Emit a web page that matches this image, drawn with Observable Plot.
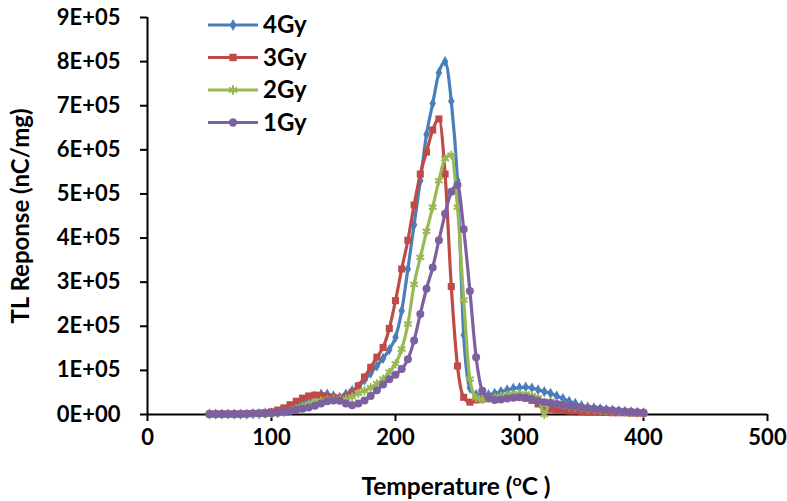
<!DOCTYPE html>
<html>
<head>
<meta charset="utf-8">
<script src="https://cdn.jsdelivr.net/npm/d3@7"></script>
<script src="https://cdn.jsdelivr.net/npm/@observablehq/plot@0.6"></script>
<style>
  html, body { margin: 0; padding: 0; background: #fff; }
  #chart { position: relative; width: 787px; height: 501px; }
</style>
</head>
<body>
<div id="chart"></div>
<script>
// Temperature (°C)
const temperature = [50,55,60,65,70,75,80,85,90,95,100,105,110,115,120,125,130,135,140,145,150,155,160,165,170,175,180,185,190,195,200,205,210,215,220,225,230,235,240,245,250,255,260,265,270,275,280,285,290,295,300,305,310,315,320,325,330,335,340,345,350,355,360,365,370,375,380,385,390,395,400];

// TL response, in units of 1E+05 nC/mg
const gy4 = [0.01,0.01,0.01,0.01,0.01,0.01,0.01,0.02,0.02,0.03,0.04,0.06,0.09,0.14,0.20,0.27,0.34,0.41,0.46,0.46,0.42,0.39,0.46,0.54,0.63,0.78,0.94,1.10,1.27,1.47,1.75,2.35,3.30,4.30,5.30,6.35,7.05,7.75,8.00,7.10,5.30,1.80,0.60,0.45,0.43,0.45,0.48,0.52,0.56,0.59,0.61,0.62,0.60,0.56,0.52,0.48,0.42,0.36,0.30,0.25,0.20,0.17,0.15,0.13,0.11,0.10,0.08,0.07,0.06,0.05,0.04];
const gy3 = [0.01,0.01,0.01,0.01,0.01,0.01,0.02,0.02,0.03,0.04,0.06,0.10,0.15,0.22,0.30,0.37,0.42,0.44,0.43,0.40,0.38,0.37,0.41,0.50,0.65,0.85,1.07,1.30,1.52,1.95,2.58,3.30,3.95,4.75,5.45,5.95,6.45,6.70,5.45,2.90,1.10,0.39,0.28,0.33,0.35,0.36,0.37,0.38,0.39,0.40,0.40,0.37,0.32,0.24,0.10,0.12,0.10,0.09,0.08,0.08,0.07,0.06,0.06,0.05,0.05,0.04,0.04,0.04,0.03,0.03,0.03];
const gy2 = [0.01,0.01,0.01,0.01,0.01,0.01,0.01,0.01,0.02,0.02,0.02,0.03,0.05,0.08,0.13,0.18,0.24,0.28,0.31,0.33,0.34,0.34,0.35,0.40,0.48,0.54,0.61,0.70,0.80,0.96,1.15,1.48,2.05,2.95,3.56,4.15,4.70,5.30,5.80,5.88,4.70,2.60,0.80,0.38,0.34,0.36,0.38,0.41,0.44,0.46,0.47,0.46,0.43,0.38,0.00,0.30,0.25,0.22,0.19,0.17,0.15,0.13,0.12,0.10,0.09,0.08,0.07,0.06,0.05,0.04,0.03];
const gy1 = [0.01,0.01,0.01,0.01,0.01,0.01,0.01,0.02,0.02,0.02,0.03,0.04,0.06,0.08,0.10,0.13,0.16,0.20,0.25,0.30,0.32,0.31,0.25,0.21,0.25,0.32,0.42,0.55,0.68,0.80,0.90,1.03,1.25,1.68,2.28,2.85,3.33,3.95,4.55,5.05,5.20,4.20,2.80,1.30,0.54,0.38,0.33,0.34,0.36,0.38,0.39,0.38,0.35,0.31,0.28,0.26,0.24,0.22,0.20,0.18,0.16,0.14,0.13,0.12,0.10,0.09,0.08,0.07,0.06,0.05,0.04];

const seriesNames = ["4Gy", "3Gy", "2Gy", "1Gy"];
const seriesValues = [gy4, gy3, gy2, gy1];
const seriesColors = ["#4a7ebb", "#be4b48", "#98b954", "#7d60a0"];
const seriesSymbols = ["diamond", "square", "asterisk", "circle"];

const xTicks = [0, 100, 200, 300, 400, 500];
const yTicks = [0, 1e5, 2e5, 3e5, 4e5, 5e5, 6e5, 7e5, 8e5, 9e5];
const xTitle = ["Temperature (", "o", "C )"];
const yTitle = "TL Reponse (nC/mg)";

const UNIT = 1e5;
const rows = seriesNames.map((name, k) =>
  temperature.map((t, i) => ({ T: t, v: seriesValues[k][i] * UNIT, dose: name }))
);

const fmtY = d => d === 0 ? "0E+00" : (d / UNIT) + "E+05";
const FONT = "Lato, 'Open Sans', sans-serif";

const marks = [
  Plot.ruleY([0], { stroke: "black", strokeWidth: 2 }),
  Plot.ruleX([0], { stroke: "black", strokeWidth: 2 }),
  Plot.axisX({ ticks: xTicks, tickSize: 7, tickPadding: 8, strokeWidth: 2, label: null, tickFormat: d => String(d) }),
  Plot.axisY({ ticks: yTicks, tickSize: 7, tickPadding: 20, strokeWidth: 2, label: null, tickFormat: fmtY })
];
rows.forEach((data, k) => {
  const sym = seriesSymbols[k];
  const isStroke = sym === "asterisk";
  marks.push(Plot.line(data, { x: "T", y: "v", stroke: seriesColors[k], strokeWidth: 3.2, curve: "monotone-x" }));
  marks.push(Plot.dot(data, {
    x: "T", y: "v", symbol: () => sym,
    r: sym === "square" ? 4 : sym === "circle" ? 4 : sym === "diamond" ? 3.4 : 4.2,
    fill: isStroke ? "none" : seriesColors[k],
    stroke: isStroke ? seriesColors[k] : "none",
    strokeWidth: isStroke ? 2 : 0
  }));
});

const svg = Plot.plot({
  width: 787, height: 501,
  marginLeft: 147, marginRight: 20, marginTop: 17, marginBottom: 87,
  x: { domain: [0, 500] },
  y: { domain: [0, 9e5] },
  style: { fontFamily: FONT, fontSize: "22px", fontWeight: "bold", color: "black", background: "white" },
  marks
});
document.getElementById("chart").appendChild(svg);

const s = d3.select(svg);
// Axis titles
s.append("text")
  .attr("transform", "translate(29,216) rotate(-90)")
  .attr("text-anchor", "middle")
  .attr("font-family", FONT).attr("font-weight", "bold").attr("font-size", 24)
  .attr("fill", "black")
  .text(yTitle);
const xt = s.append("text")
  .attr("x", 456).attr("y", 495)
  .attr("text-anchor", "middle")
  .attr("font-family", FONT).attr("font-weight", "bold").attr("font-size", 24.5)
  .attr("fill", "black");
xt.append("tspan").text(xTitle[0]);
xt.append("tspan").attr("dy", -9).attr("font-size", 16).text(xTitle[1]);
xt.append("tspan").attr("dy", 9).text(xTitle[2]);

// Legend
const lg = s.append("g");
seriesNames.forEach((name, k) => {
  const cy = 25 + k * 32.5;
  const g = lg.append("g").attr("transform", `translate(0,${cy})`);
  g.append("line").attr("x1", 208).attr("x2", 258).attr("y1", 0).attr("y2", 0)
    .attr("stroke", seriesColors[k]).attr("stroke-width", 3.2);
  const sym = seriesSymbols[k];
  const symType = { diamond: d3.symbolDiamond, square: d3.symbolSquare, circle: d3.symbolCircle, asterisk: d3.symbolAsterisk }[sym];
  const size = sym === "asterisk" ? 60 : sym === "diamond" ? 40 : 55;
  g.append("path").attr("d", d3.symbol(symType, size)())
    .attr("transform", "translate(233,0)")
    .attr("fill", sym === "asterisk" ? "none" : seriesColors[k])
    .attr("stroke", sym === "asterisk" ? seriesColors[k] : "none")
    .attr("stroke-width", 2);
  g.append("text").attr("x", 263).attr("y", 0).attr("dy", "0.35em")
    .attr("text-anchor", "start")
    .attr("font-family", FONT).attr("font-weight", "bold").attr("font-size", 24)
    .attr("fill", "black").text(name);
});
</script>
</body>
</html>
